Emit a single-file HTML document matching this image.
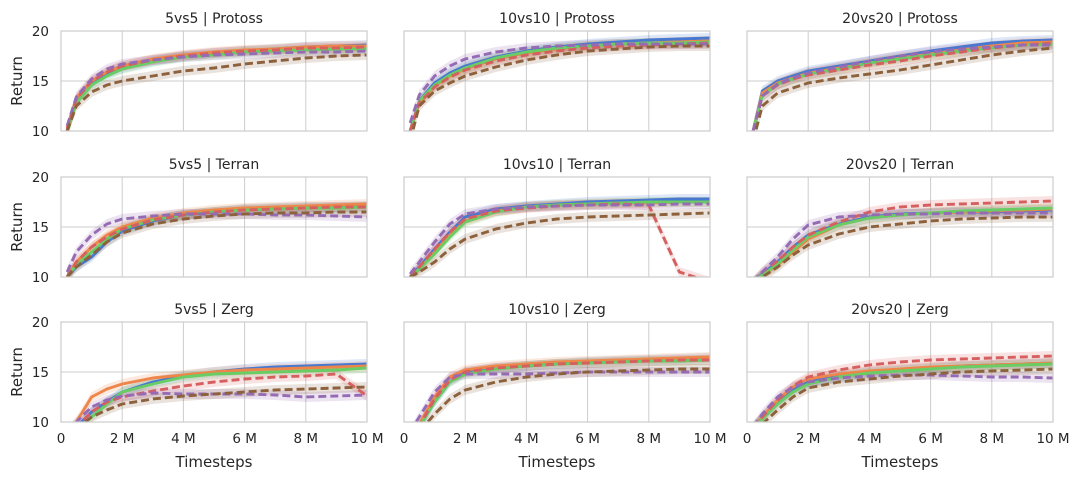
<!DOCTYPE html>
<html><head><meta charset="utf-8"><style>
body{margin:0;background:#fff;}
svg{display:block;font-family:"DejaVu Sans","Liberation Sans",sans-serif;}
</style></head><body>
<svg id="chart" width="1079" height="480" viewBox="0 0 1079 480"></svg>
<script>
const xs=[0.2,0.5,1,1.5,2,3,4,5,6,7,8,9,10];
const panelTitles=["5vs5 | Protoss","10vs10 | Protoss","20vs20 | Protoss","5vs5 | Terran","10vs10 | Terran","20vs20 | Terran","5vs5 | Zerg","10vs10 | Zerg","20vs20 | Zerg"];
const seriesNames=["blue","orange","green","red","purple","brown"];
const seriesColors=["#4878d0","#ee854a","#6acc64","#d65f5f","#956cb4","#8c613c"];
const seriesDashed=[false,false,false,true,true,true];
const xTicks=[0,2,4,6,8,10];
const xTickLabels=["0","2 M","4 M","6 M","8 M","10 M"];
const yTicks=[10,15,20];
const p1=[[10,13,14.8,15.7,16.3,17,17.5,17.8,18,18.2,18.4,18.5,18.6],[10.3,13.3,15,15.9,16.5,17.2,17.6,17.9,18.1,18.2,18.4,18.5,18.5],[9.8,12.8,14.6,15.5,16.2,16.9,17.4,17.6,17.9,18,18.1,18.2,18.2],[10.2,13.2,15,15.9,16.5,17.1,17.5,17.8,18,18.1,18.3,18.3,18.4],[10.5,13.4,15.2,16.2,16.7,17.1,17.4,17.6,17.7,17.8,17.9,17.9,18],[10,12.5,13.9,14.6,15,15.5,16,16.3,16.7,17,17.3,17.5,17.6]];
const p2=[[10,13,14.8,15.8,16.5,17.4,18,18.4,18.7,18.9,19.1,19.2,19.3],[10,12.8,14.5,15.5,16.2,17.2,17.8,18.2,18.5,18.7,18.8,18.9,19],[10,13,14.6,15.6,16.3,17.3,17.9,18.3,18.5,18.7,18.8,18.8,18.9],[10,12.8,14.4,15.4,16.1,17,17.6,18,18.3,18.5,18.6,18.7,18.8],[10.8,13.6,15.5,16.5,17.2,17.9,18.3,18.5,18.6,18.7,18.7,18.7,18.7],[9,12.5,14,14.8,15.5,16.4,17.1,17.6,18,18.2,18.4,18.5,18.5]];
const p3=[[10,14,15,15.5,16,16.5,17,17.5,18,18.4,18.8,19,19.1],[10,13.8,14.8,15.3,15.8,16.3,16.8,17.3,17.7,18.1,18.5,18.8,18.9],[10,13.5,14.7,15.2,15.7,16.2,16.8,17.2,17.6,18,18.3,18.6,18.7],[10,13.5,14.6,15.2,15.6,16.1,16.6,17,17.5,17.9,18.3,18.6,18.8],[10,13.5,14.7,15.3,15.8,16.4,17,17.5,17.9,18.2,18.4,18.6,18.6],[9,12.5,13.8,14.3,14.8,15.3,15.7,16.1,16.6,17.1,17.6,18,18.3]];
const p4=[[10,11,12,13.5,14.6,15.6,16.2,16.5,16.8,16.9,17,17,17.1],[10,11.5,13,14.2,15,15.9,16.4,16.7,16.9,17,17.1,17.2,17.3],[10,11.2,12.5,13.8,14.8,15.7,16.2,16.5,16.7,16.8,16.9,16.9,17],[10,11.5,13,14,14.8,15.7,16.2,16.5,16.7,16.8,16.9,17,17],[10.5,12.5,14.2,15.3,15.8,16.1,16.3,16.3,16.3,16.2,16.2,16.1,16],[10,11,12.2,13.5,14.4,15.3,15.8,16.1,16.3,16.4,16.4,16.5,16.5]];
const p5=[[10,11,12.8,14.5,16,16.8,17.1,17.3,17.5,17.6,17.7,17.8,17.8],[10,10.8,12.5,14.2,15.6,16.6,17,17.2,17.3,17.4,17.4,17.5,17.5],[10,10.8,12.3,14,15.5,16.5,17,17.2,17.3,17.4,17.5,17.5,17.5],[10,11,12.8,14.5,15.8,16.6,16.9,17.1,17.2,17.3,17.2,10.5,9.5],[10.3,11.5,13.5,15.3,16.3,16.8,17,17.1,17.2,17.2,17.2,17.3,17.3],[10,10.5,11.5,12.8,13.8,14.8,15.4,15.8,16,16.1,16.2,16.3,16.4]];
const p6=[[9.5,10.3,11.5,13,14.2,15.3,16,16.3,16.4,16.5,16.5,16.6,16.7],[9.5,10.2,11.2,12.5,13.8,15.2,15.9,16.2,16.4,16.5,16.6,16.7,16.8],[9.5,10.2,11.3,12.7,14,15.2,15.9,16.2,16.4,16.6,16.7,16.8,16.9],[9.5,10.5,11.6,13,14.2,15.5,16.5,17,17.2,17.3,17.4,17.5,17.6],[9.5,10.5,12,13.8,15.2,16,16.2,16.3,16.3,16.4,16.4,16.4,16.4],[9.5,10,11,12.2,13.2,14.3,15,15.3,15.6,15.8,15.9,16,16]];
const p7=[[8.5,9.5,11,12,13,14,14.6,15,15.3,15.5,15.6,15.7,15.8],[9,10,12.5,13.3,13.8,14.4,14.7,15,15.2,15.3,15.4,15.5,15.6],[8.5,9.2,10.5,11.8,13,13.8,14.5,14.8,14.9,15,15.1,15.2,15.4],[8.5,9.5,11,12,12.5,13.1,13.6,14,14.3,14.5,14.6,14.8,12.6],[9,10,11.5,12.2,12.6,12.9,12.8,12.8,12.8,12.7,12.5,12.6,12.7],[8.5,9.3,10.5,11.2,11.8,12.3,12.6,12.8,13,13.2,13.3,13.4,13.5]];
const p8=[[8.5,9.5,12,14,15,15.4,15.6,15.8,16,16.1,16.2,16.3,16.4],[8.5,9.8,12.5,14.5,15.2,15.6,15.8,16,16.1,16.2,16.3,16.4,16.5],[8.5,9.5,12,14,14.8,15.3,15.6,15.8,15.9,16,16.1,16.1,16.2],[8.5,9.6,12.3,14.2,15,15.4,15.6,15.8,15.9,16,16.1,16.2,16.2],[9,10.5,13,14.5,14.8,14.8,14.8,14.9,15,15,15,15,15],[8.5,9,10.8,12.3,13.2,14,14.5,14.8,15,15.1,15.2,15.3,15.3]];
const p9=[[9.5,10.5,12,13.2,14,14.6,15,15.2,15.4,15.6,15.7,15.8,15.9],[9.5,10.5,12.2,13.5,14.3,14.8,15.1,15.3,15.5,15.6,15.7,15.8,15.9],[9.5,10.3,11.8,13,13.8,14.5,14.9,15.1,15.3,15.5,15.6,15.7,15.8],[9.5,10.5,12.2,13.6,14.5,15.2,15.7,16,16.2,16.3,16.4,16.5,16.6],[9.5,10.8,12.5,13.5,14,14.4,14.6,14.7,14.7,14.6,14.5,14.5,14.4],[9,9.8,11.2,12.5,13.4,14,14.3,14.6,14.8,15,15.1,15.2,15.3]];
const panels=[p1,p2,p3,p4,p5,p6,p7,p8,p9];

const NS="http://www.w3.org/2000/svg";
const svg=document.getElementById("chart");
const colX=[61,404,747], rowY=[31,177,322], W=306, H=100;
function mk(tag,attrs,parent){const e=document.createElementNS(NS,tag);for(const k in attrs)e.setAttribute(k,attrs[k]);(parent||svg).appendChild(e);return e;}
panels.forEach((pd,pi)=>{
  const r=Math.floor(pi/3), c=pi%3, x0=colX[c], y0=rowY[r];
  const sx=v=>x0+v/10*W, sy=v=>y0+H-(v-10)/10*H;
  const g=mk("g",{});
  
  
  const cp=mk("clipPath",{id:"cp"+pi},g); mk("rect",{x:x0,y:y0,width:W,height:H},cp);
  xTicks.forEach((t,i)=>{
    const l=mk("line",{x1:sx(t),x2:sx(t),y1:y0,y2:y0+H,stroke:"#cccccc","stroke-width":1},g);
    
    
    if(r===2){const tx=mk("text",{x:sx(t),y:y0+H+21,"text-anchor":"middle","font-size":13.5,fill:"#262626"},g);tx.textContent=xTickLabels[i];
      
      }
  });
  yTicks.forEach(t=>{
    const l=mk("line",{x1:x0,x2:x0+W,y1:sy(t),y2:sy(t),stroke:"#cccccc","stroke-width":1},g);
    
    
    if(c===0){const tx=mk("text",{x:x0-12,y:sy(t)+5,"text-anchor":"end","font-size":13.5,fill:"#262626"},g);tx.textContent=t;
      
      }
  });
  const lg=mk("g",{"clip-path":"url(#cp"+pi+")"},g);
  pd.forEach((vals,si)=>{
    const up=xs.map((x,i)=>sx(x)+","+sy(vals[i]+0.5)).join(" ");
    const dn=xs.map((x,i)=>sx(x)+","+sy(vals[i]-0.5)).reverse().join(" ");
    const b=mk("polygon",{points:up+" "+dn,fill:seriesColors[si],"fill-opacity":0.18,stroke:"none"},lg);
    
    
  });
  pd.forEach((vals,si)=>{
    const pts=xs.map((x,i)=>sx(x)+","+sy(vals[i])).join(" ");
    const a={points:pts,fill:"none",stroke:seriesColors[si],"stroke-width":2.9,"stroke-linejoin":"round"};
    if(seriesDashed[si])a["stroke-dasharray"]="8,4";
    const p=mk("polyline",a,lg);
    
    
  });
  const fr=mk("rect",{x:x0,y:y0,width:W,height:H,fill:"none",stroke:"#cccccc","stroke-width":1.2},g);
  
  
  const tt=mk("text",{x:x0+W/2,y:y0-8,"text-anchor":"middle","font-size":14,fill:"#262626"},g);
  tt.textContent=panelTitles[pi];
  
  
  if(c===0){const yl=mk("text",{x:0,y:0,transform:"translate(22,"+(y0+H/2)+") rotate(-90)","text-anchor":"middle","font-size":15,fill:"#262626"},g);yl.textContent="Return";
    
    }
  if(r===2){const xl=mk("text",{x:x0+W/2,y:y0+H+45,"text-anchor":"middle","font-size":15,fill:"#262626"},g);xl.textContent="Timesteps";
    
    }
});
</script>
</body></html>
